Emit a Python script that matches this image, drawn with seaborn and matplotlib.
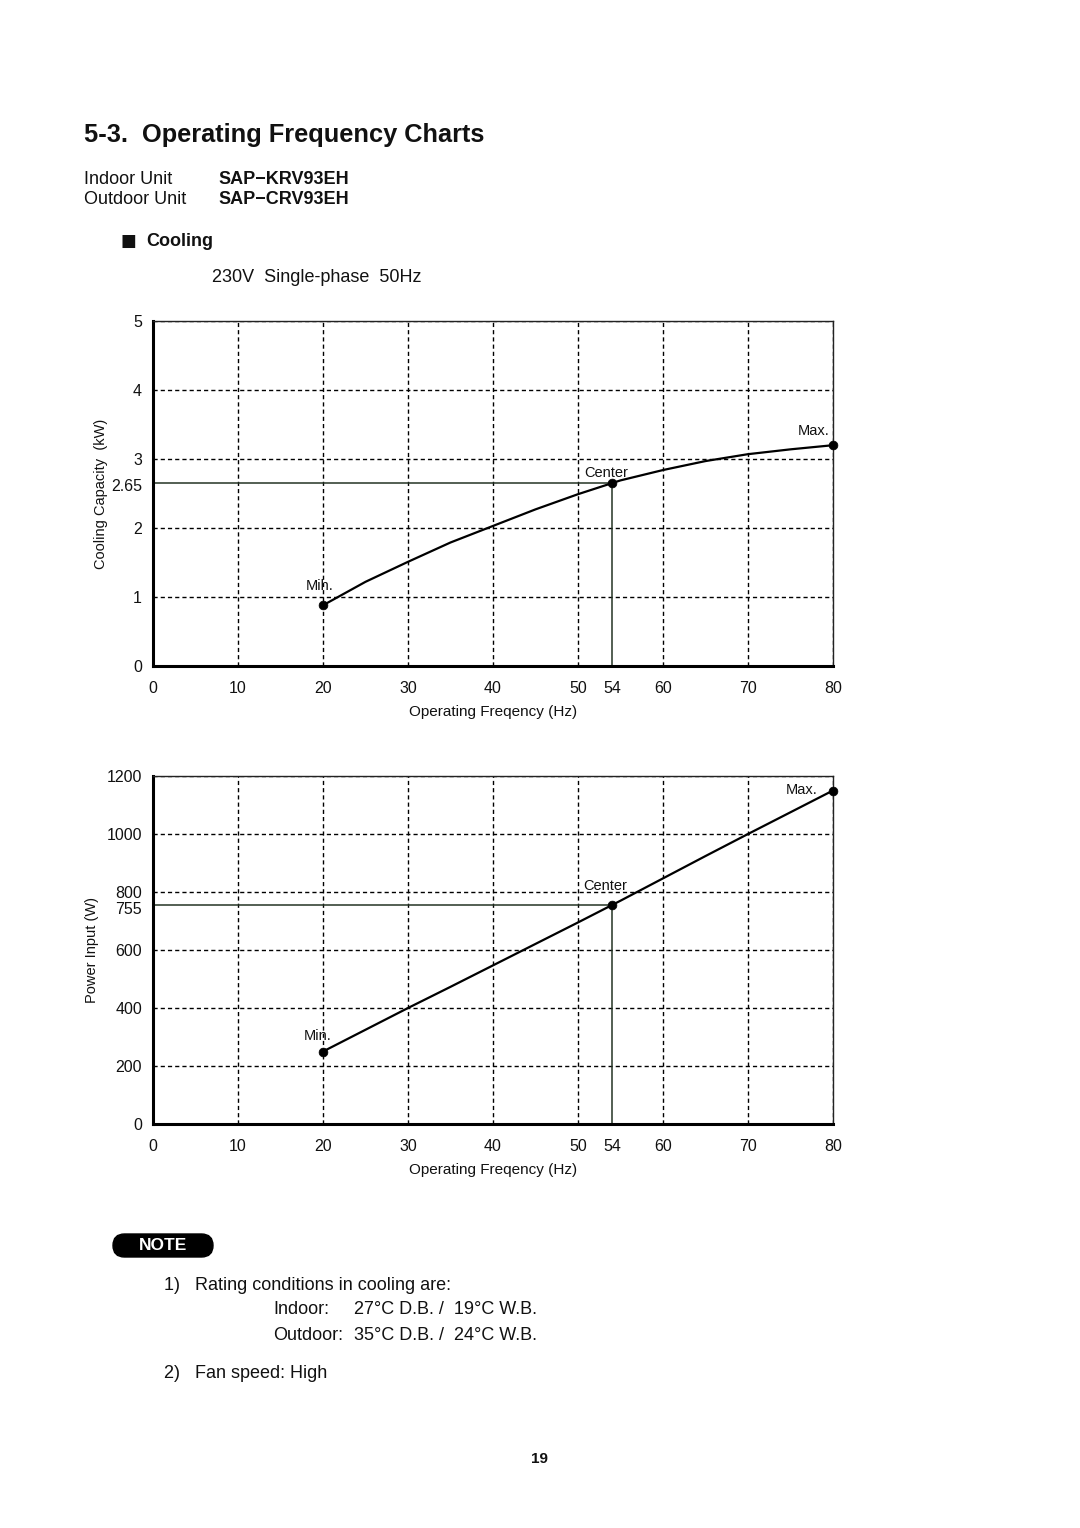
import numpy as np
import pandas as pd
import matplotlib
matplotlib.use("Agg")
import matplotlib.pyplot as plt
from matplotlib.patches import FancyBboxPatch
from matplotlib.transforms import IdentityTransform, ScaledTranslation
import seaborn as sns

# ---------------- data ----------------
freq_hz = [20, 25, 30, 35, 40, 45, 50, 54, 55, 60, 65, 70, 75, 80]
capacity_kw = [0.88, 1.22, 1.51, 1.79, 2.03, 2.27, 2.49, 2.65, 2.69, 2.84, 2.97, 3.07, 3.14, 3.20]
power_w = [250, 325, 400, 473, 547, 621, 695, 755, 770, 847, 924, 1000, 1075, 1150]

key_freq = [20, 54, 80]
key_capacity = [0.88, 2.65, 3.20]
key_power = [250, 755, 1150]
key_labels_top = ["Mih.", "Center", "Max."]
key_labels_bottom = ["Min.", "Center", "Max."]

rated_freq = 54
rated_capacity = 2.65
rated_power = 755

x_ticks = [0, 10, 20, 30, 40, 50, 60, 70, 80]
cap_ticks = [0, 1, 2, 3, 4, 5]
pow_ticks = [0, 200, 400, 600, 800, 1000, 1200]

curve = pd.DataFrame({"freq": freq_hz, "capacity": capacity_kw, "power": power_w})
keys = pd.DataFrame({"freq": key_freq, "capacity": key_capacity, "power": key_power})

# ---------------- style ----------------
sns.set_theme(style="white")
plt.rcParams["font.family"] = ["Liberation Sans", "DejaVu Sans"]

W, H = 1080, 1528
fig = plt.figure(figsize=(W / 100, H / 100), dpi=100)
fig.patch.set_facecolor("white")


def fx(px):
    return px / W


def fy(py):
    return 1 - py / H


# header texts
fig.text(fx(84), fy(135), "5-3.  Operating Frequency Charts", fontsize=18.3,
         fontweight="bold", ha="left", va="center", color="#111")
fig.text(fx(84), fy(179), "Indoor Unit", fontsize=13, ha="left", va="center", color="#111")
fig.text(fx(84), fy(200), "Outdoor Unit", fontsize=13, ha="left", va="center", color="#111")
fig.text(fx(218), fy(179), "SAP\u2212KRV93EH", fontsize=13, fontweight="bold",
         ha="left", va="center", color="#111")
fig.text(fx(218), fy(200), "SAP\u2212CRV93EH", fontsize=13, fontweight="bold",
         ha="left", va="center", color="#111")
fig.text(fx(121), fy(241), "\u25A0", fontsize=12, ha="left", va="center",
         color="#111", family=["DejaVu Sans"])
fig.text(fx(146), fy(241), "Cooling", fontsize=13, fontweight="bold",
         ha="left", va="center", color="#111")
fig.text(fx(212), fy(277), "230V  Single-phase  50Hz", fontsize=13,
         ha="left", va="center", color="#111")


def style_axes(ax, yticks, ymax, rated_y, rated_label, nudge_px):
    ax.set_xlim(0, 80)
    ax.set_ylim(0, ymax)
    ax.set_xticks(x_ticks)
    ax.set_xticklabels([str(v) for v in x_ticks])
    ax.set_xticks([rated_freq], labels=[str(rated_freq)], minor=True)
    ax.set_yticks(yticks)
    ax.set_yticklabels([str(v) for v in yticks])
    ax.set_yticks([rated_y], labels=[rated_label], minor=True)
    ax.grid(which="major", linestyle=(0, (3, 2.2)), color="black", linewidth=1.0)
    ax.grid(which="minor", visible=False)
    ax.set_axisbelow(True)
    ax.tick_params(which="both", axis="x", length=0, pad=11, labelsize=11.5, colors="#111")
    ax.tick_params(which="both", axis="y", length=0, pad=8, labelsize=11.5, colors="#111")
    for lab in ax.yaxis.get_minorticklabels():
        lab.set_transform(lab.get_transform() +
                          ScaledTranslation(0, -nudge_px / 100, fig.dpi_scale_trans))
    for side in ["left", "bottom"]:
        ax.spines[side].set_color("black")
        ax.spines[side].set_linewidth(2.2)
    for side in ["top", "right"]:
        ax.spines[side].set_color("#222")
        ax.spines[side].set_linewidth(1.0)
    ax.set_facecolor("white")


# ---------------- top chart ----------------
ax1 = fig.add_axes([fx(153), fy(666), (833 - 153) / W, (666 - 321) / H])
style_axes(ax1, cap_ticks, 5, rated_capacity, "2.65", 2)
ax1.plot([0, rated_freq], [rated_capacity, rated_capacity], color="#243424", lw=1.1, zorder=2)
ax1.plot([rated_freq, rated_freq], [0, rated_capacity], color="#243424", lw=1.1, zorder=2)
sns.lineplot(data=curve, x="freq", y="capacity", ax=ax1, color="black", lw=1.6,
             sort=False, estimator=None, zorder=3)
sns.scatterplot(data=keys, x="freq", y="capacity", ax=ax1, color="black", s=40,
                edgecolor="black", zorder=4, clip_on=False)
offs_top = [(-3, 19), (-6, 10), (-19, 14)]
for xv, yv, lab, (dx, dy) in zip(key_freq, key_capacity, key_labels_top, offs_top):
    ax1.annotate(lab, (xv, yv), xytext=(dx, dy), textcoords="offset pixels",
                 ha="center", va="center", fontsize=10.5, color="#111")
ax1.set_xlabel("Operating Freqency (Hz)", fontsize=11, color="#111")
ax1.xaxis.label.set_va("top")
ax1.xaxis.set_label_coords(0.5, -(705 - 666) / 345)
ax1.set_ylabel("Cooling Capacity  (kW)", fontsize=10.5, color="#111")
ax1.yaxis.label.set_va("center")
ax1.yaxis.set_label_coords((101 - 153) / 680, 0.5)

# ---------------- bottom chart ----------------
ax2 = fig.add_axes([fx(153), fy(1124), (833 - 153) / W, (1124 - 776) / H])
style_axes(ax2, pow_ticks, 1200, rated_power, "755", 3)
ax2.plot([0, rated_freq], [rated_power, rated_power], color="#243424", lw=1.1, zorder=2)
ax2.plot([rated_freq, rated_freq], [0, rated_power], color="#243424", lw=1.1, zorder=2)
sns.lineplot(data=curve, x="freq", y="power", ax=ax2, color="black", lw=1.6,
             sort=False, estimator=None, zorder=3)
sns.scatterplot(data=keys, x="freq", y="power", ax=ax2, color="black", s=40,
                edgecolor="black", zorder=4, clip_on=False)
offs_bot = [(-5, 15), (-7, 19), (-31, 1)]
for xv, yv, lab, (dx, dy) in zip(key_freq, key_power, key_labels_bottom, offs_bot):
    ax2.annotate(lab, (xv, yv), xytext=(dx, dy), textcoords="offset pixels",
                 ha="center", va="center", fontsize=10.5, color="#111")
ax2.set_xlabel("Operating Freqency (Hz)", fontsize=11, color="#111")
ax2.xaxis.label.set_va("top")
ax2.xaxis.set_label_coords(0.5, -(1163 - 1124) / 348)
ax2.set_ylabel("Power Input (W)", fontsize=10.5, color="#111")
ax2.yaxis.label.set_va("center")
ax2.yaxis.set_label_coords((92 - 153) / 680, 0.5)

# ---------------- note ----------------
badge = FancyBboxPatch((113, H - 1257), 100, 23, boxstyle="round,pad=0,rounding_size=11.5",
                       transform=IdentityTransform(), facecolor="black", edgecolor="black")
fig.add_artist(badge)
fig.text(fx(163), fy(1246), "NOTE", fontsize=12.5, fontweight="bold", color="white",
         ha="center", va="center")
fig.text(fx(164), fy(1285), "1)   Rating conditions in cooling are:", fontsize=13,
         ha="left", va="center", color="#111")
fig.text(fx(273), fy(1310), "Indoor:", fontsize=13, ha="left", va="center", color="#111")
fig.text(fx(354), fy(1310), "27\u00b0C D.B. /  19\u00b0C W.B.", fontsize=13,
         ha="left", va="center", color="#111")
fig.text(fx(273), fy(1336), "Outdoor:", fontsize=13, ha="left", va="center", color="#111")
fig.text(fx(354), fy(1336), "35\u00b0C D.B. /  24\u00b0C W.B.", fontsize=13,
         ha="left", va="center", color="#111")
fig.text(fx(164), fy(1374), "2)   Fan speed: High", fontsize=13,
         ha="left", va="center", color="#111")
fig.text(fx(540), fy(1459), "19", fontsize=11, fontweight="bold",
         ha="center", va="center", color="#111")

fig.savefig("out.png", dpi=100, facecolor="white")
